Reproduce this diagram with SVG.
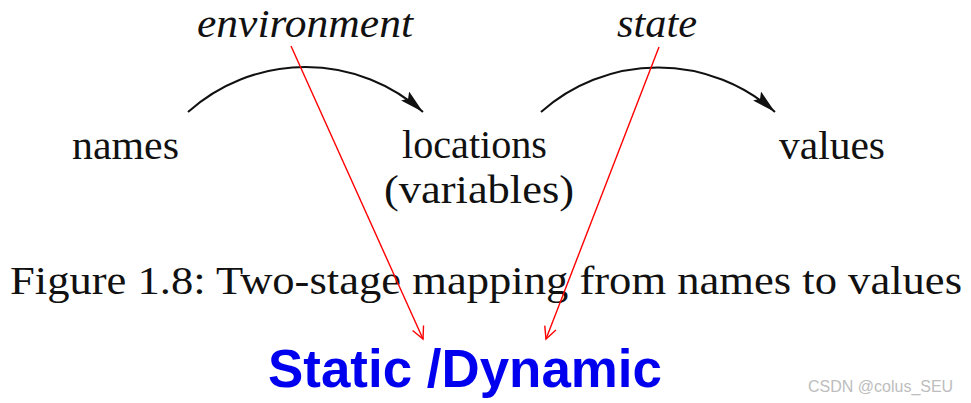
<svg xmlns="http://www.w3.org/2000/svg" width="971" height="403" viewBox="0 0 971 403">
<style>
.lbl{font-family:"Liberation Serif","DejaVu Serif",serif;font-size:40px;fill:#111}
.it{font-style:italic}
.arc{fill:none;stroke:#111;stroke-width:2}
.red{stroke:#f00;stroke-width:1.4;fill:none}
.big{font-family:"Liberation Sans",Arial,sans-serif;font-weight:bold;font-size:53px;fill:#0000ee}
.wm{font-family:"Liberation Sans",Arial,sans-serif;font-size:16px;fill:#bdbdbd}
</style>
<defs>
<marker id="ah" markerUnits="userSpaceOnUse" markerWidth="30" markerHeight="16" refX="24" refY="6" orient="auto">
<path d="M0,0 L24,6 L0,12 L4,6 Z" fill="#111"/>
</marker>
<marker id="rv" markerUnits="userSpaceOnUse" markerWidth="16" markerHeight="16" refX="13" refY="7" orient="auto">
<path d="M1,1 L13,7 L1,13" fill="none" stroke="#f00" stroke-width="1.4"/>
</marker>
</defs>
<rect width="971" height="403" fill="#fff"/>
<g id="names"><text class="lbl" x="72" y="159" textLength="107" lengthAdjust="spacingAndGlyphs">names</text></g>
<g id="locations"><text class="lbl" x="402" y="158" textLength="145" lengthAdjust="spacingAndGlyphs">locations</text><text class="lbl" x="384" y="203" textLength="190" lengthAdjust="spacingAndGlyphs">(variables)</text></g>
<g id="values"><text class="lbl" x="779" y="159" textLength="106" lengthAdjust="spacingAndGlyphs">values</text></g>
<g id="environment"><text class="lbl it" x="197" y="37" textLength="216" lengthAdjust="spacingAndGlyphs">environment</text></g>
<g id="state"><text class="lbl it" x="617" y="37" textLength="80" lengthAdjust="spacingAndGlyphs">state</text></g>
<g id="caption"><text class="lbl" x="10" y="294" textLength="952" lengthAdjust="spacingAndGlyphs">Figure 1.8: Two-stage mapping from names to values</text></g>
<g id="static-dynamic"><text class="big" x="268" y="387" textLength="394" lengthAdjust="spacingAndGlyphs">Static /Dynamic</text></g>
<g id="connectors">
<path class="arc" d="M188,112 A176,176 0 0 1 423,112" marker-end="url(#ah)"/>
<path class="arc" d="M541,112 A176,176 0 0 1 775,112" marker-end="url(#ah)"/>
<line class="red" x1="291" y1="46" x2="423" y2="339" marker-end="url(#rv)"/>
<line class="red" x1="659" y1="47" x2="546" y2="339" marker-end="url(#rv)"/>
</g>
<text class="wm" x="808" y="392">CSDN @colus_SEU</text>
</svg>
